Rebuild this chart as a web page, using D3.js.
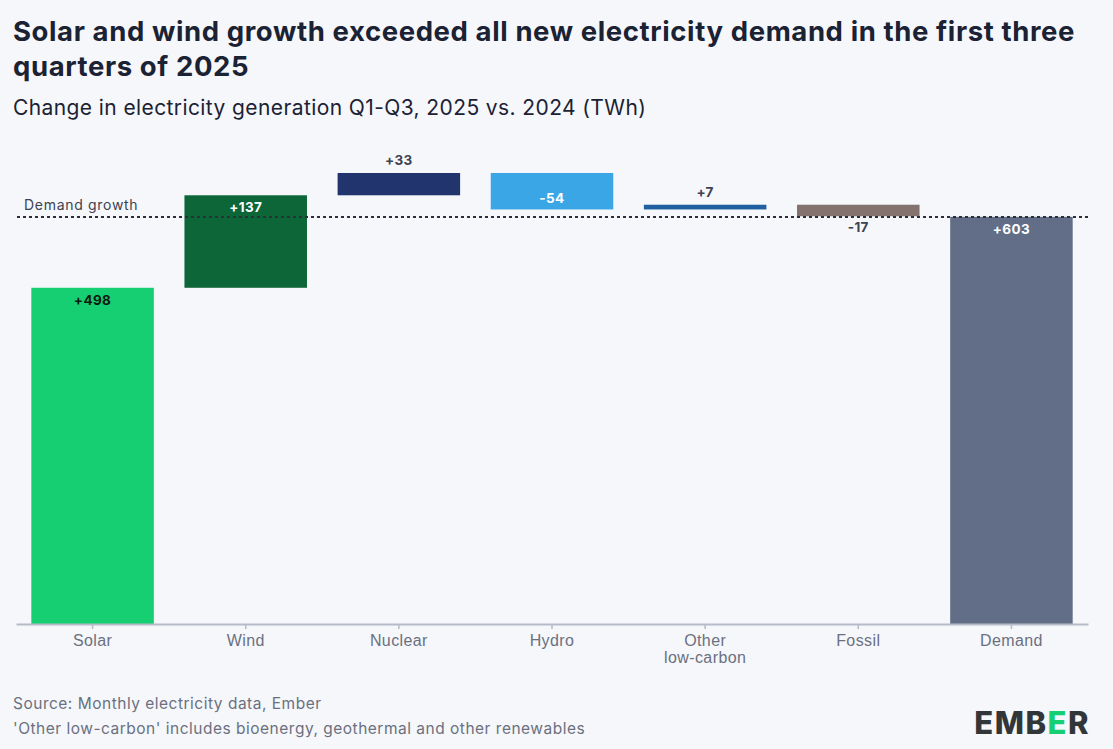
<!DOCTYPE html>
<html>
<head>
<meta charset="utf-8">
<script src="https://cdn.jsdelivr.net/npm/d3@7"></script>
<style>
  body { margin: 0; background: #f5f7fb; }
  svg { font-family: "Inter", "Open Sans", sans-serif; }
</style>
</head>
<body>
<div id="chart"></div>
<script>
// Chart data (TWh change, Q1-Q3 2025 vs 2024)
var categories = ["Solar", "Wind", "Nuclear", "Hydro", "Other low-carbon", "Fossil", "Demand"];
var changes = [498, 137, 33, -54, 7, -17, 603];
var labels = ["+498", "+137", "+33", "-54", "+7", "-17", "+603"];
var colors = ["#16cf72", "#0c6637", "#22346e", "#3aa6e6", "#2160a0", "#84726e", "#626e87"];
var totalFlags = [false, false, false, false, false, false, true];
var demandGrowth = 603;

var svgWidth = 1113;
var svgHeight = 749;

var svg = d3.select("#chart")
  .append("svg")
  .attr("width", svgWidth)
  .attr("height", svgHeight);

svg.append("rect")
  .attr("width", svgWidth)
  .attr("height", svgHeight)
  .attr("fill", "#f5f7fb");

// Titles
svg.append("text")
  .attr("x", 13).attr("y", 41)
  .attr("font-size", 27.5).attr("font-weight", 700)
  .attr("letter-spacing", 0.6)
  .attr("fill", "#1b2233")
  .text("Solar and wind growth exceeded all new electricity demand in the first three");
svg.append("text")
  .attr("x", 13).attr("y", 76)
  .attr("font-size", 27.5).attr("font-weight", 700)
  .attr("letter-spacing", 0.6)
  .attr("fill", "#1b2233")
  .text("quarters of 2025");
svg.append("text")
  .attr("x", 13).attr("y", 115)
  .attr("font-size", 21).attr("font-weight", 400)
  .attr("letter-spacing", 0.4)
  .attr("fill", "#1b2233")
  .text("Change in electricity generation Q1-Q3, 2025 vs. 2024 (TWh)");

// Build waterfall steps
var running = 0;
var steps = categories.map(function(c, i) {
  var start, end;
  if (totalFlags[i]) {
    start = 0; end = changes[i];
  } else {
    start = running; end = running + changes[i];
    running = end;
  }
  return { cat: c, start: start, end: end, value: changes[i], label: labels[i], color: colors[i] };
});

// Scales
var x = d3.scaleBand()
  .domain(categories)
  .range([16, 1088])
  .paddingInner(0.2)
  .paddingOuter(0.1);

var y = d3.scaleLinear()
  .domain([0, 668])
  .range([624, 173]);

// Bars
svg.selectAll(".bar")
  .data(steps)
  .enter()
  .append("rect")
  .attr("class", "bar")
  .attr("x", d => x(d.cat))
  .attr("width", x.bandwidth())
  .attr("y", d => y(Math.max(d.start, d.end)))
  .attr("height", d => Math.abs(y(d.start) - y(d.end)))
  .attr("fill", d => d.color);

// Demand growth reference line
svg.append("line")
  .attr("x1", 17).attr("x2", 1088)
  .attr("y1", y(demandGrowth)).attr("y2", y(demandGrowth))
  .attr("stroke", "#2a2f3a")
  .attr("stroke-width", 2)
  .attr("stroke-dasharray", "3,3");

svg.append("text")
  .attr("x", 24).attr("y", y(demandGrowth) - 7)
  .attr("font-size", 14).attr("letter-spacing", 0.7)
  .attr("fill", "#3d4250")
  .text("Demand growth");

// Value labels
svg.selectAll(".val")
  .data(steps)
  .enter()
  .append("text")
  .attr("class", "val")
  .attr("x", d => x(d.cat) + x.bandwidth() / 2)
  .attr("y", function(d) {
    var h = Math.abs(y(d.start) - y(d.end));
    var inside = h > 25;
    if (d.value >= 0) {
      return inside ? y(d.end) + 17 : y(d.end) - 8;
    }
    return inside ? y(d.end) - 6 : y(d.end) + 16;
  })
  .attr("text-anchor", "middle")
  .attr("font-size", 13.5).attr("font-weight", 700)
  .attr("letter-spacing", 0.4)
  .attr("fill", function(d) {
    var h = Math.abs(y(d.start) - y(d.end));
    if (h <= 25) return "#3d4250";
    return d.cat === "Solar" ? "#0d1a12" : "#ffffff";
  })
  .text(d => d.label);

// X axis
var xAxis = svg.append("g")
  .attr("transform", "translate(0, " + y(0) + ")")
  .call(d3.axisBottom(x).tickSize(5).tickSizeOuter(0).tickFormat(""));

xAxis.select(".domain").attr("stroke", "#b7bbc7").attr("stroke-width", 2);
xAxis.selectAll(".tick line").attr("stroke", "#b7bbc7").attr("stroke-width", 1.5);

xAxis.selectAll(".tick")
  .append("text")
  .attr("fill", "#6b7080")
  .attr("font-size", 16)
  .attr("letter-spacing", 0.4)
  .attr("text-anchor", "middle")
  .each(function(d) {
    var parts = d === "Other low-carbon" ? ["Other", "low-carbon"] : [d];
    var t = d3.select(this);
    parts.forEach(function(p, i) {
      t.append("tspan").attr("x", 0).attr("y", 22 + i * 17).text(p);
    });
  });

// Footer notes
svg.append("text")
  .attr("x", 13).attr("y", 709)
  .attr("font-size", 15.5).attr("letter-spacing", 0.5)
  .attr("fill", "#6b7080")
  .text("Source: Monthly electricity data, Ember");
svg.append("text")
  .attr("x", 13).attr("y", 734)
  .attr("font-size", 15.5).attr("letter-spacing", 0.5)
  .attr("fill", "#6b7080")
  .text("'Other low-carbon' includes bioenergy, geothermal and other renewables");

// Logo
var logo = svg.append("text")
  .attr("x", 1090).attr("y", 734)
  .attr("text-anchor", "end")
  .attr("font-size", 31).attr("font-weight", 800)
  .attr("fill", "#333638")
  .attr("letter-spacing", 1.5);
logo.append("tspan").text("EMB");
logo.append("tspan").attr("fill", "#16cf72").text("E");
logo.append("tspan").text("R");
</script>
</body>
</html>
